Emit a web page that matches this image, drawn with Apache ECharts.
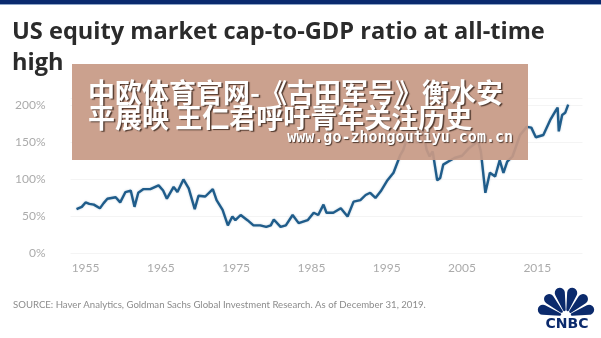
<!DOCTYPE html>
<html>
<head>
<meta charset="utf-8">
<script src="https://cdn.jsdelivr.net/npm/echarts@6/dist/echarts.min.js"></script>
<style>
  html, body { margin: 0; padding: 0; background: #fff; }
  #main { width: 601px; height: 338px; }
</style>
</head>
<body>
<div id="main"></div>
<script>
// 读图估计的数据 (年份, 市值/GDP %)
var years = [
  1953.8, 1954.5, 1955.0, 1955.5, 1956.1, 1956.9, 1957.4, 1957.9, 1959.0, 1959.6,
  1960.3, 1961.0, 1961.5, 1962.0, 1962.7, 1963.6, 1964.7, 1965.3, 1965.8, 1966.7,
  1967.2, 1968.0, 1968.7, 1969.5, 1970.0, 1970.9, 1971.9, 1972.4, 1973.2, 1973.9,
  1974.5, 1974.9, 1975.6, 1976.5, 1977.3, 1978.2, 1979.0, 1979.6, 1980.0, 1980.9,
  1981.6, 1982.5, 1983.3, 1984.5, 1985.3, 1985.9, 1986.6, 1987.0, 1987.9, 1988.9,
  1989.8, 1990.6, 1991.5, 1992.2, 1992.8, 1993.5, 1994.2, 1995.1, 1995.9, 1996.8,
  1997.2, 1997.6, 1997.8, 1998.2, 1998.6, 1999.0, 1999.4, 1999.8, 2000.3, 2000.7,
  2001.1, 2001.7, 2002.1, 2002.5, 2003.3, 2004.0, 2005.0, 2005.9, 2006.8, 2007.1,
  2007.5, 2008.1, 2008.7, 2009.4, 2010.0, 2010.5, 2011.0, 2011.7, 2012.7, 2013.6,
  2014.2, 2014.8, 2015.8, 2016.7, 2017.5, 2017.7, 2017.85, 2018.3, 2018.7, 2019.1
]
var ratios = [
  60, 63, 69, 67, 66, 61, 68, 74, 76, 69,
  83, 85, 63, 82, 87, 87, 92, 85, 74, 90,
  83, 100, 88, 60, 78, 77, 87, 72, 59, 38,
  50, 45, 52, 45, 38, 38, 36, 38, 46, 36,
  38, 52, 41, 45, 55, 52, 66, 55, 55, 61,
  50, 70, 72, 79, 82, 75, 84, 99, 109, 133,
  140, 153, 158, 165, 170, 149, 163, 167, 140, 131,
  138, 99, 102, 120, 125, 129, 132, 142, 149, 153,
  138, 82, 109, 104, 126, 109, 124, 131, 160, 171,
  170, 157, 160, 180, 194, 197, 165, 187, 190, 201
]
var yearTicks = [1955, 1965, 1975, 1985, 1995, 2005, 2015]
var pctTicks = [0, 50, 100, 150, 200]

var titleText = 'US equity market cap-to-GDP ratio at all-time\nhigh'
var sourceText = 'SOURCE: Haver Analytics, Goldman Sachs Global Investment Research. As of December 31, 2019.'
var overlayText = '中欧体育官网-《古田军号》衡水安\n平展映 王仁君呼吁青年关注历史'
var overlayUrl = 'www.go-zhongoutiyu.com.cn'

var seriesData = []
for (let i = 0; i < years.length; i++) {
  seriesData.push([years[i], ratios[i]])
}

var navy = '#0b2a6c'

// CNBC 孔雀 logo
var feathers = []
for (let i = 0; i < 6; i++) {
  let a0 = Math.PI + i * Math.PI / 6
  feathers.push({
    type: 'sector',
    shape: { cx: 566, cy: 316, r0: 5, r: 29, startAngle: a0 + 0.05, endAngle: a0 + Math.PI / 6 - 0.05, cornerRadius: 7 },
    style: { fill: navy },
    z: 120
  })
}

var myChart = echarts.init(document.getElementById('main'))
myChart.setOption({
  animation: false,
  backgroundColor: '#fff',
  grid: { left: 70.5, right: 18.5, top: 98, height: 155.5, containLabel: false },
  xAxis: {
    type: 'value',
    min: 1953,
    max: 2021,
    axisLine: { show: false },
    axisTick: { show: false },
    splitLine: { show: false },
    axisLabel: {
      customValues: yearTicks,
      formatter: function (v) { return String(v) },
      color: '#ababab',
      fontFamily: 'Lato',
      fontSize: 12,
      margin: 9
    }
  },
  yAxis: {
    type: 'value',
    min: 0,
    max: 210,
    interval: 50,
    axisLine: { show: false },
    axisTick: { show: false },
    splitLine: { show: true, lineStyle: { color: '#f4f4f4', width: 1 } },
    axisLabel: {
      customValues: pctTicks,
      formatter: '{value}%',
      color: '#ababab',
      fontFamily: 'Lato',
      fontSize: 12,
      margin: 25
    }
  },
  series: [{
    type: 'line',
    data: seriesData,
    showSymbol: false,
    clip: false,
    lineStyle: { color: '#1f5c8a', width: 2.4, shadowColor: 'rgba(31,92,138,0.35)', shadowBlur: 2 }
  }],
  graphic: [
    { type: 'rect', shape: { x: 0, y: 0, width: 601, height: 4 }, style: { fill: '#0a2a6e' }, z: 100 },
    { type: 'rect', shape: { x: 0, y: 4, width: 601, height: 1 }, style: { fill: '#8ea6c8' }, z: 100 },
    {
      type: 'text', left: 12, top: 17, z: 100,
      style: { text: titleText, fill: '#2b2b2b', font: 'bold 23.6px "Open Sans"', lineHeight: 31 }
    },
    {
      type: 'text', left: 13, top: 300, z: 100,
      style: { text: sourceText, fill: '#8c8c8c', font: '9.6px Lato' }
    },
    {
      type: 'group', z: 110,
      children: [
        { type: 'rect', shape: { x: 72, y: 64, width: 456, height: 96 }, style: { fill: '#c79a85', opacity: 0.93 }, z: 110 },
        {
          type: 'text', x: 88, y: 80, z: 111,
          style: {
            text: overlayText, fill: '#fff', font: 'bold 27px "Noto Sans CJK SC"', lineHeight: 25,
            textShadowColor: 'rgba(60,40,30,0.85)', textShadowOffsetX: 1.5, textShadowOffsetY: 1.5, textShadowBlur: 1
          }
        },
        {
          type: 'text', x: 513, y: 131, z: 111,
          style: {
            text: overlayUrl, fill: '#fff', font: 'bold 15px "DejaVu Sans Mono"', align: 'right',
            textShadowColor: 'rgba(60,40,30,0.85)', textShadowOffsetX: 1, textShadowOffsetY: 1, textShadowBlur: 1
          }
        }
      ]
    },
    { type: 'group', z: 120, children: feathers.concat([
      { type: 'circle', shape: { cx: 566, cy: 316, r: 4 }, style: { fill: '#fff' }, z: 121 },
      {
        type: 'text', x: 567, y: 317, z: 121,
        style: { text: 'CNBC', fill: navy, font: '900 14px "DejaVu Sans"', align: 'center' }
      }
    ]) }
  ]
})
</script>
</body>
</html>
